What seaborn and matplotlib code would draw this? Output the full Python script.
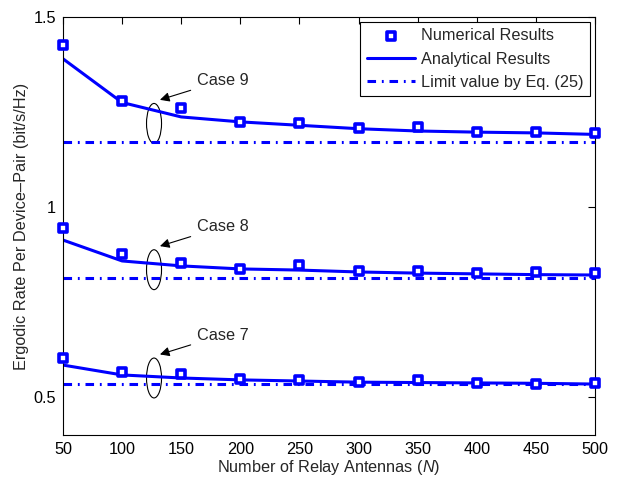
import numpy as np
import pandas as pd
import matplotlib
matplotlib.use("Agg")
import matplotlib.pyplot as plt
from matplotlib.patches import Ellipse
import seaborn as sns

antennas = [50, 100, 150, 200, 250, 300, 350, 400, 450, 500]

case_names = ["Case 9", "Case 8", "Case 7"]

numerical_case9 = [1.426, 1.279, 1.261, 1.224, 1.221, 1.209, 1.211, 1.197, 1.198, 1.195]
numerical_case8 = [0.945, 0.876, 0.853, 0.837, 0.847, 0.832, 0.832, 0.827, 0.828, 0.825]
numerical_case7 = [0.603, 0.566, 0.561, 0.547, 0.545, 0.540, 0.545, 0.536, 0.535, 0.536]

analytical_case9 = [1.390, 1.275, 1.237, 1.224, 1.215, 1.206, 1.200, 1.197, 1.195, 1.191]
analytical_case8 = [0.913, 0.858, 0.845, 0.837, 0.834, 0.829, 0.826, 0.824, 0.822, 0.821]
analytical_case7 = [0.584, 0.558, 0.550, 0.545, 0.542, 0.539, 0.538, 0.537, 0.536, 0.534]

limit_values = [1.171, 0.813, 0.533]

numerical = [numerical_case9, numerical_case8, numerical_case7]
analytical = [analytical_case9, analytical_case8, analytical_case7]

sns.set_theme(style="white")
plt.rcParams['font.family'] = ['Liberation Sans', 'DejaVu Sans']
plt.rcParams['mathtext.fontset'] = 'custom'
plt.rcParams['mathtext.it'] = 'Liberation Sans:italic'

fig = plt.figure(figsize=(6.2, 4.79), dpi=100)
ax = fig.add_axes([0.1016, 0.0919, 0.8581, 0.8726])

blue = "#0000ff"
dashdot = (0, (2.8, 1.9, 0.6, 1.9))
fs = 11.7

for i, name in enumerate(case_names):
    df = pd.DataFrame({"N": antennas, "num": numerical[i], "ana": analytical[i],
                       "lim": [limit_values[i]] * len(antennas)})
    sns.lineplot(data=df, x="N", y="ana", ax=ax, color=blue, linewidth=2.2,
                 label="Analytical Results" if i == 0 else None)
    sns.lineplot(data=df, x="N", y="lim", ax=ax, color=blue, linewidth=2.2,
                 linestyle=dashdot, label="Limit value by Eq. (25)" if i == 0 else None)
    sns.scatterplot(data=df, x="N", y="num", ax=ax, marker="s", s=36,
                    facecolor="white", edgecolor=blue, linewidth=2.6, zorder=5,
                    clip_on=False,
                    label="Numerical Results" if i == 0 else None)

# ellipses and labels
ell_y = [1.22, 0.835, 0.55]
for name, yc in zip(case_names, ell_y):
    ax.add_patch(Ellipse((127, yc), 12.7, 0.105, fill=False, edgecolor="black", linewidth=0.8))
    ax.annotate(name, xy=(132, yc + 0.062), xytext=(163, yc + 0.113),
                fontsize=fs, va="center", ha="left",
                arrowprops=dict(arrowstyle="-|>", color="black", lw=0.8,
                                mutation_scale=14, shrinkA=2, shrinkB=0))

ax.set_xlim(50, 500)
ax.set_ylim(0.4, 1.5)
ax.set_xticks(antennas)
ax.set_yticks([0.5, 1, 1.5])
ax.set_yticklabels(["0.5", "1", "1.5"])
ax.tick_params(direction="in", top=True, right=True, length=5, width=0.8,
               labelsize=fs, colors="black", pad=5)
for sp in ax.spines.values():
    sp.set_color("black")
    sp.set_linewidth(0.8)

ax.set_xlabel("Number of Relay Antennas ($\\mathit{N}$)", fontsize=fs, labelpad=1)
ax.set_ylabel("Ergodic Rate Per Device–Pair (bit/s/Hz)", fontsize=fs, labelpad=3)

handles, labels = ax.get_legend_handles_labels()
order = [labels.index("Numerical Results"), labels.index("Analytical Results"),
         labels.index("Limit value by Eq. (25)")]
leg = ax.legend([handles[k] for k in order], [labels[k] for k in order],
                loc="upper right", fontsize=fs, frameon=True, fancybox=False,
                edgecolor="black", framealpha=1, borderaxespad=0.3,
                handlelength=3.0, labelspacing=0.5, borderpad=0.4,
                handletextpad=0.35)
leg.get_frame().set_linewidth(0.8)

fig.savefig("out.png", dpi=100)
